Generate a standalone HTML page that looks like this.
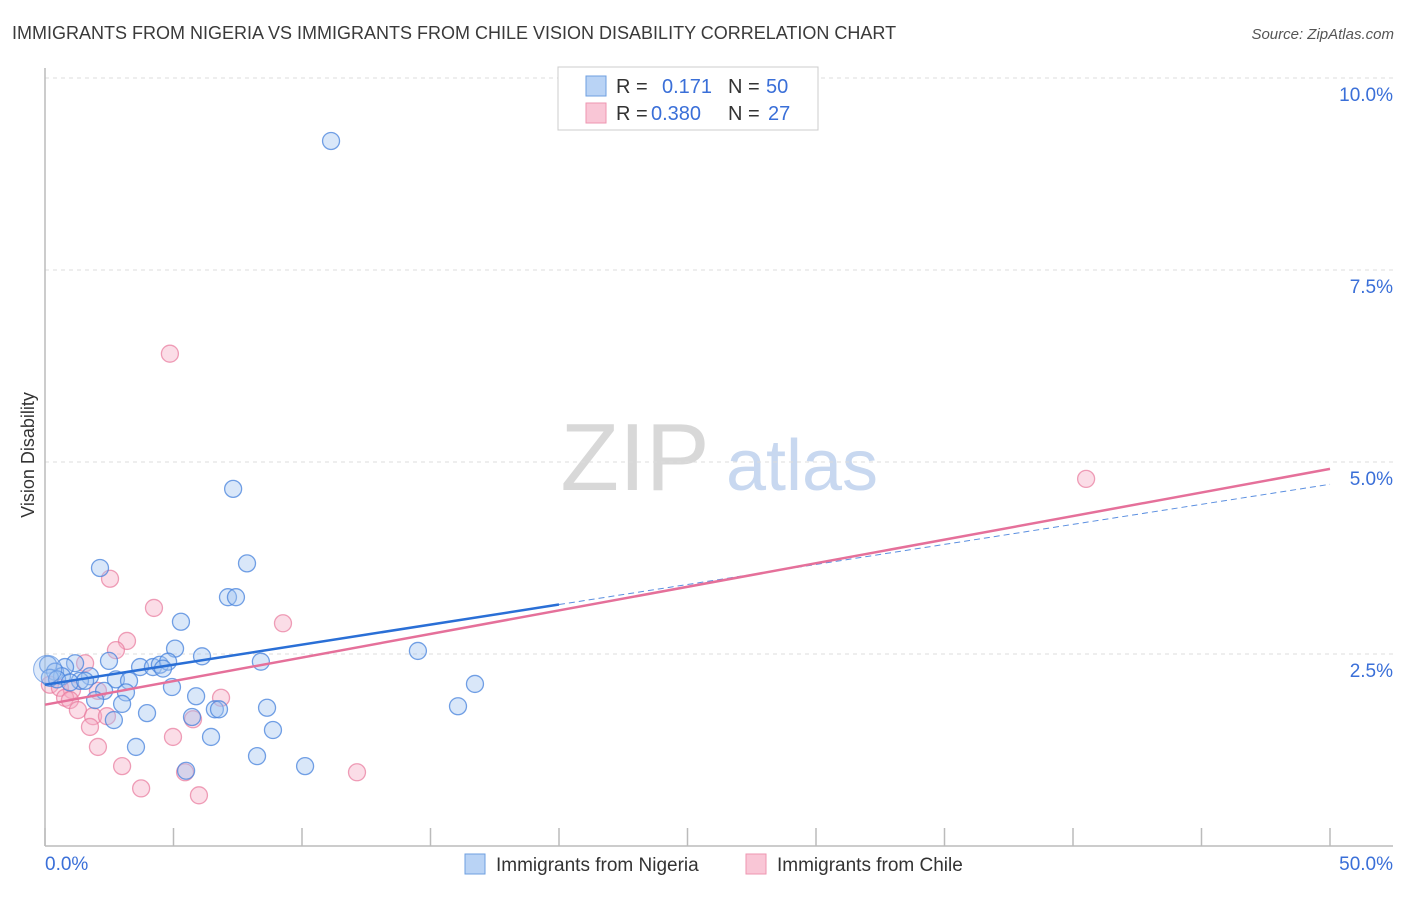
<!DOCTYPE html>
<html><head><meta charset="utf-8"><style>
body{margin:0;background:#fff;font-family:"Liberation Sans",sans-serif;}
svg text{font-family:"Liberation Sans",sans-serif;}
</style></head><body>
<svg id="chart" width="1406" height="892" viewBox="0 0 1406 892" xmlns="http://www.w3.org/2000/svg">
<text x="12" y="39" font-size="18" fill="#3a3a3a">IMMIGRANTS FROM NIGERIA VS IMMIGRANTS FROM CHILE VISION DISABILITY CORRELATION CHART</text>
<text x="1394" y="39" font-size="15" fill="#555" font-style="italic" text-anchor="end">Source: ZipAtlas.com</text>
<text x="635" y="490" font-size="96" fill="#d8d8d8" font-family="Liberation Serif" text-anchor="middle">ZIP</text>
<text x="802" y="490" font-size="72" fill="#c8d8f0" text-anchor="middle">atlas</text>
<text transform="translate(34,455) rotate(-90)" font-size="18" fill="#333" text-anchor="middle">Vision Disability</text>
<g id="grid"></g><g id="axes"></g><g id="pts"></g><g id="trends"></g>
<g>
<rect x="558" y="67" width="260" height="63" fill="#fff" stroke="#ccc"/>
<rect x="586" y="76" width="20" height="20" fill="#b9d3f5" stroke="#6e9fe0"/>
<rect x="586" y="103" width="20" height="20" fill="#f9c6d6" stroke="#ee96b0"/>
<text x="616" y="93" font-size="20" fill="#333">R = </text><text x="662" y="93" font-size="20" fill="#3a6fd8">0.171</text>
<text x="728" y="93" font-size="20" fill="#333">N = </text><text x="766" y="93" font-size="20" fill="#3a6fd8">50</text>
<text x="616" y="120" font-size="20" fill="#333">R = </text><text x="651" y="120" font-size="20" fill="#3a6fd8">0.380</text>
<text x="728" y="120" font-size="20" fill="#333">N = </text><text x="768" y="120" font-size="20" fill="#3a6fd8">27</text>
</g>
<g>
<rect x="465" y="854" width="20" height="20" fill="#b9d3f5" stroke="#6e9fe0"/>
<text x="496" y="871" font-size="19" fill="#333">Immigrants from Nigeria</text>
<rect x="746" y="854" width="20" height="20" fill="#f9c6d6" stroke="#ee96b0"/>
<text x="777" y="871" font-size="19" fill="#333">Immigrants from Chile</text>
</g>
</svg>
<script>
const yTicks=[2.5,5,7.5,10];
const yTickLabels=["2.5%","5.0%","7.5%","10.0%"];
const xTickLabels=["0.0%","50.0%"];
const nigeriaX=[11.13,7.32,7.86,2.14,7.12,7.43,5.29,5.06,6.11,8.40,2.49,3.70,4.20,4.47,4.79,4.59,1.17,0.78,0.12,0.39,0.66,1.75,1.36,2.76,3.27,4.94,2.30,3.15,5.88,1.95,3.00,3.97,5.72,6.61,6.77,8.64,2.68,8.87,6.46,3.54,8.25,5.49,10.12,14.51,16.73,16.07,0.19,0.47,0.97,1.56];
const nigeriaY=[9.18,4.65,3.68,3.62,3.24,3.24,2.92,2.57,2.47,2.40,2.41,2.33,2.33,2.36,2.40,2.31,2.38,2.33,2.36,2.27,2.21,2.21,2.15,2.17,2.15,2.07,2.02,2.00,1.95,1.90,1.85,1.73,1.68,1.78,1.78,1.80,1.64,1.51,1.42,1.29,1.17,0.98,1.04,2.54,2.11,1.82,2.19,2.17,2.13,2.15];
const chileX=[4.86,40.51,2.53,4.24,3.19,9.26,2.76,1.56,0.19,0.58,1.05,2.06,0.78,0.97,1.28,6.85,1.87,2.41,5.76,1.75,4.98,2.06,3.00,5.45,12.14,3.74,5.99];
const chileY=[6.41,4.78,3.48,3.10,2.67,2.90,2.55,2.38,2.10,2.06,2.03,2.02,1.93,1.90,1.77,1.93,1.69,1.69,1.65,1.55,1.42,1.29,1.04,0.96,0.96,0.75,0.66];
const nigeriaTrend=[2.10,4.71]; // at x=0 and x=50
const chileTrend=[1.84,4.91];
const NS="http://www.w3.org/2000/svg";
const X0=45,X1=1330,Y0=846,PY=76.8;
const xs=v=>X0+(X1-X0)*v/50, ys=v=>Y0-v*PY;
function mk(t,a,p){const e=document.createElementNS(NS,t);for(const k in a)e.setAttribute(k,a[k]);p.appendChild(e);return e;}
const grid=document.getElementById('grid'),axes=document.getElementById('axes'),pts=document.getElementById('pts'),tr=document.getElementById('trends');
yTicks.forEach((t,i)=>{
 const l=mk('line',{x1:45,x2:1393,y1:ys(t),y2:ys(t),stroke:'#ddd','stroke-dasharray':'4,4'},grid);
 
 
 const tx=mk('text',{x:1393,y:ys(t)+23,'font-size':19,fill:'#3a6fd8','text-anchor':'end'},grid);
 tx.textContent=yTickLabels[i];
 
 
});
const ya=mk('line',{x1:45,x2:45,y1:68,y2:846,stroke:'#bbb','stroke-width':1.5},axes);


const xa=mk('line',{x1:45,x2:1393,y1:846,y2:846,stroke:'#bbb','stroke-width':1.5},axes);


for(let i=0;i<=10;i++){const tk=mk('line',{x1:xs(i*5),x2:xs(i*5),y1:828,y2:846,stroke:'#bbb','stroke-width':1.5},axes);
 
 }
[[0,'start',45],[50,'end',1393]].forEach((d,i)=>{const t=mk('text',{x:d[2],y:870,'font-size':19,fill:'#3a6fd8','text-anchor':d[1]},axes);t.textContent=xTickLabels[i];
 
 });
function dots(X,Y,f,s,name){X.forEach((x,i)=>{const c=mk('circle',{cx:xs(x),cy:ys(Y[i]),r:8.5,fill:f,stroke:s,'stroke-width':1.3},pts);
 
 });}
dots(chileX,chileY,'rgba(246,170,195,0.4)','rgba(232,120,155,0.7)','chile-point');
dots(nigeriaX,nigeriaY,'rgba(160,195,240,0.4)','rgba(70,130,220,0.75)','nigeria-point');
const big=mk('circle',{cx:xs(0.1),cy:ys(2.3),r:14,fill:'rgba(160,195,240,0.35)',stroke:'rgba(70,130,220,0.6)'},pts);


const nb=v=>nigeriaTrend[0]+(nigeriaTrend[1]-nigeriaTrend[0])*v/50;
let l1=mk('line',{x1:xs(0),y1:ys(nb(0)),x2:xs(20),y2:ys(nb(20)),stroke:'#2a6fd6','stroke-width':2.5},tr);


let l2=mk('line',{x1:xs(20),y1:ys(nb(20)),x2:xs(50),y2:ys(nb(50)),stroke:'#5b8fe0','stroke-width':1,'stroke-dasharray':'6,4'},tr);


let l3=mk('line',{x1:xs(0),y1:ys(chileTrend[0]),x2:xs(50),y2:ys(chileTrend[1]),stroke:'#e5709a','stroke-width':2.5},tr);


</script>
</body></html>
